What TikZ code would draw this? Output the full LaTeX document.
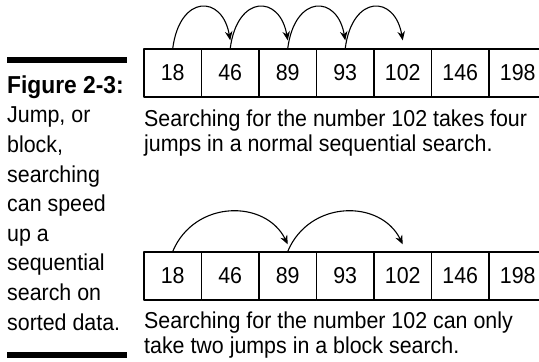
\documentclass[tikz,border=0pt]{standalone}
\usepackage{fontspec}
\setmainfont{Liberation Sans}[FakeStretch=0.93]
\usetikzlibrary{arrows.meta}
\begin{document}
\begin{tikzpicture}[x=1pt, y=-1pt, font=\fontsize{23}{25}\selectfont, line join=round, >={Stealth[length=9pt,width=7.5pt]},
	cell/.style={draw, line width=1.3pt, minimum width=57.5pt, minimum height=48pt, inner sep=0pt},
	hop/.style={->, line width=1.1pt},
	bar/.style={line width=5.5pt},
	caption/.style={anchor=base west, inner sep=0pt, align=left}]
	\clip (0,0) rectangle (539,362);
	% side text (anchored at its last line)
	\draw[bar] (7,60) -- (127,60);
	\node[caption, font=\fontsize{23}{29.6}\selectfont] (side) at (7,330) {{\fontsize{24.5}{29.6}\selectfont\bfseries Figure 2-3:}\\Jump, or\\block,\\searching\\can speed\\up a\\sequential\\search on\\sorted data.};
	\draw[bar] (7,355) -- (127,355);
	% sequential search
	\foreach \v [count=\i] in {18,46,89,93,102,146,198}
		\node[cell] (t\i) at ({144+57.5*(\i-0.5)},73) {\v};
	\foreach \a/\b in {1/2,2/3,3/4,4/5}
		\draw[hop] (t\a.north) .. controls +(7,-54) and +(-8,-46) .. ([yshift=8pt]t\b.north);
	\node[caption] (capa) at (144,151) {Searching for the number 102 takes four\\jumps in a normal sequential search.};
	% block search
	\foreach \v [count=\i] in {18,46,89,93,102,146,198}
		\node[cell] (b\i) at ({144+57.5*(\i-0.5)},276) {\v};
	\foreach \a/\b in {1/3,3/5}
		\draw[hop] (b\a.north) .. controls +(22,-52) and +(-22,-45) .. ([yshift=7pt]b\b.north);
	\node[caption] (capb) at (144,353) {Searching for the number 102 can only\\take two jumps in a block search.};
\end{tikzpicture}
\end{document}
